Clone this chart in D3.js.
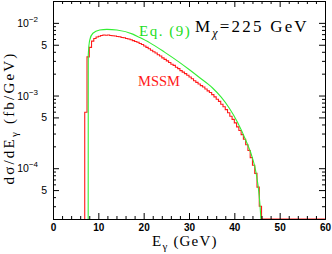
<!DOCTYPE html>
<html>
<head>
<meta charset="utf-8">
<script src="https://cdn.jsdelivr.net/npm/d3@7"></script>
<style>
  body { margin: 0; background: #fff; }
  svg { display: block; }
</style>
</head>
<body>
<svg></svg>
<script>
// tick values
let xMajor = [0, 10, 20, 30, 40, 50, 60]
let xMinor = [2, 4, 6, 8, 12, 14, 16, 18, 22, 24, 26, 28, 32, 34, 36, 38, 42, 44, 46, 48, 52, 54, 56, 58]
let yDecades = [1e-4, 1e-3, 1e-2]
let yDecadeLabels = ['-4', '-3', '-2']
let yFives = [5e-5, 5e-4, 5e-3]

// Eq. (9) curve: E_gamma (GeV), dsigma/dE (10^-3 fb/GeV), 0 = off the bottom
let eqE   = [7.76, 7.78, 8.1, 8.8, 10.3, 11.9, 14.1, 17.6, 19.0, 21.3, 24.6, 27.9, 30.1, 32.3, 35.2, 37.1, 38.9, 40.7, 42.6, 44.0, 44.8, 45.5, 45.8, 45.85]
let eqVal = [0, 3.6, 5.8, 7.2, 7.96, 8.13, 7.96, 7.0, 6.35, 5.35, 3.96, 2.86, 2.26, 1.77, 1.27, 0.95, 0.67, 0.43, 0.237, 0.138, 0.086, 0.041, 0.023, 0]

// MSSM histogram: bins of 0.5 GeV starting at 7 GeV, values in 10^-3 fb/GeV
let mssmStart = 7
let mssmWidth = 0.5
let mssmVal = [
  0.59, 3.4, 4.6, 5.6, 6.1, 6.4, 6.55, 6.7, 6.8, 6.75,
  6.8, 6.7, 6.65, 6.6, 6.5, 6.45, 6.3, 6.25, 6.1, 6.0,
  5.85, 5.7, 5.55, 5.4, 5.2, 5.05, 4.8, 4.6, 4.4, 4.2,
  4.0, 3.85, 3.65, 3.5, 3.3, 3.15, 3.0, 2.85, 2.7, 2.6,
  2.45, 2.35, 2.2, 2.1, 2.0, 1.9, 1.8, 1.7, 1.6, 1.52,
  1.44, 1.37, 1.31, 1.23, 1.16, 1.1, 1.03, 0.96, 0.89, 0.83,
  0.76, 0.7, 0.64, 0.58, 0.52, 0.47, 0.42, 0.37, 0.33, 0.29,
  0.25, 0.21, 0.175, 0.14, 0.11, 0.085, 0.055, 0.03
]

let w = 332
let h = 254
let padL = 53, padR = 325, padT = 1, padB = 219

let svg = d3.select('svg').attr('width', w).attr('height', h)

let xScale = d3.scaleLinear().domain([0, 60]).range([padL, padR])
let yScale = d3.scaleLog().domain([2e-5, 2e-2]).range([padB, padT])

let yMinor = []
yDecades.concat([1e-5]).forEach((d) => {
  for (let k = 2; k <= 9; k++) {
    let v = d * k
    if (k != 5 && v >= 2e-5 && v <= 2e-2) yMinor.push(v)
  }
})

let yPos = (v) => v > 0 ? yScale(v * 1e-3) : padB

svg.append('clipPath').attr('id', 'clip')
   .append('rect').attr('x', padL).attr('y', padT).attr('width', padR - padL).attr('height', padB - padT + 1)

// MSSM histogram
let mssmPts = [[mssmStart, 0]]
mssmVal.forEach((v, i) => mssmPts.push([mssmStart + i * mssmWidth, v]))
mssmPts.push([mssmStart + mssmVal.length * mssmWidth, 0])
mssmPts.push([60, 0])

let stepLine = d3.line()
   .x((d) => xScale(d[0]))
   .y((d) => yPos(d[1]))
   .curve(d3.curveStepAfter)

svg.append('path')
   .attr('d', stepLine(mssmPts))
   .attr('clip-path', 'url(#clip)')
   .attr('fill', 'none')
   .attr('stroke', '#ff1a1a')
   .attr('stroke-width', 1.1)

// Eq. (9) curve
let eqLine = d3.line()
   .x((d, i) => xScale(eqE[i]))
   .y((d) => yPos(d))
   .curve(d3.curveMonotoneX)

svg.append('path')
   .attr('d', eqLine(eqVal))
   .attr('clip-path', 'url(#clip)')
   .attr('fill', 'none')
   .attr('stroke', '#33ee33')
   .attr('stroke-width', 1.1)

// axes, ticks inside on all four sides
let addAxis = (axis, tx, ty) => {
  let g = svg.append('g')
     .attr('transform', 'translate(' + tx + ',' + ty + ')')
     .call(axis)
  g.select('.domain').attr('stroke', '#000')
  g.selectAll('line').attr('stroke', '#000')
  return g
}

let xBottom = addAxis(d3.axisBottom(xScale).tickValues(xMajor).tickSize(-6).tickSizeOuter(0).tickPadding(5)
   .tickFormat(d3.format('d')), 0, padB)
xBottom.selectAll('text')
   .attr('font-family', 'Liberation Sans, Arial, sans-serif')
   .attr('font-size', 10).attr('font-weight', 'bold').attr('fill', '#000')
addAxis(d3.axisBottom(xScale).tickValues(xMinor).tickSize(-3).tickSizeOuter(0).tickFormat(''), 0, padB)
addAxis(d3.axisTop(xScale).tickValues(xMajor).tickSize(-6).tickSizeOuter(0).tickFormat(''), 0, padT)
addAxis(d3.axisTop(xScale).tickValues(xMinor).tickSize(-3).tickSizeOuter(0).tickFormat(''), 0, padT)

addAxis(d3.axisLeft(yScale).tickValues(yDecades.concat(yFives)).tickSize(-6).tickSizeOuter(0).tickFormat(''), padL, 0)
addAxis(d3.axisLeft(yScale).tickValues(yMinor).tickSize(-3).tickSizeOuter(0).tickFormat(''), padL, 0)
addAxis(d3.axisRight(yScale).tickValues(yDecades.concat(yFives)).tickSize(-6).tickSizeOuter(0).tickFormat(''), padR, 0)
addAxis(d3.axisRight(yScale).tickValues(yMinor).tickSize(-3).tickSizeOuter(0).tickFormat(''), padR, 0)

// y tick labels
yDecades.forEach((d, i) => {
  let t = svg.append('text')
     .attr('x', 38).attr('y', yScale(d) + 4)
     .attr('text-anchor', 'end')
     .attr('font-family', 'Liberation Sans, Arial, sans-serif')
     .attr('font-size', 10.5)
  t.append('tspan').text('10')
  t.append('tspan').attr('dy', -5).attr('font-size', 8).text(yDecadeLabels[i].replace('-', '\u2212'))
})
yFives.forEach((d) => {
  svg.append('text')
     .attr('x', 47).attr('y', yScale(d) + 4)
     .attr('text-anchor', 'end')
     .attr('font-family', 'Liberation Sans, Arial, sans-serif')
     .attr('font-size', 10.5)
     .text('5')
})

let serif = 'Liberation Serif, Times New Roman, serif'

// axis titles
let xt = svg.append('text')
   .attr('x', 152).attr('y', 246)
   .attr('font-family', serif).attr('font-size', 15).attr('letter-spacing', 1.2)
xt.append('tspan').text('E')
xt.append('tspan').attr('dy', 4).attr('font-size', 11).text('\u03b3')
xt.append('tspan').attr('dy', -4).text(' (GeV)')

let yt = svg.append('text')
   .attr('transform', 'translate(14,118) rotate(-90)')
   .attr('text-anchor', 'middle')
   .attr('font-family', serif).attr('font-size', 15).attr('letter-spacing', 2.2)
yt.append('tspan').text('d\u03c3/dE')
yt.append('tspan').attr('dy', 4).attr('font-size', 11).text('\u03b3')
yt.append('tspan').attr('dy', -4).text(' (fb/GeV)')

// annotations
svg.append('text')
   .attr('x', 139).attr('y', 36)
   .attr('font-family', serif).attr('font-size', 15).attr('letter-spacing', 1.5)
   .attr('fill', '#22dd22')
   .text('Eq. (9)')

svg.append('text')
   .attr('x', 138).attr('y', 86)
   .attr('font-family', serif).attr('font-size', 14.5)
   .attr('fill', '#ff1a1a')
   .text('MSSM')

let mt = svg.append('text')
   .attr('x', 195).attr('y', 32)
   .attr('font-family', serif).attr('font-size', 17).attr('letter-spacing', 2.2)
mt.append('tspan').text('M')
mt.append('tspan').attr('dy', 5).attr('font-size', 12).attr('font-style', 'italic').text('\u03c7')
mt.append('tspan').attr('dy', -5).text('=225  GeV')
</script>
</body>
</html>
